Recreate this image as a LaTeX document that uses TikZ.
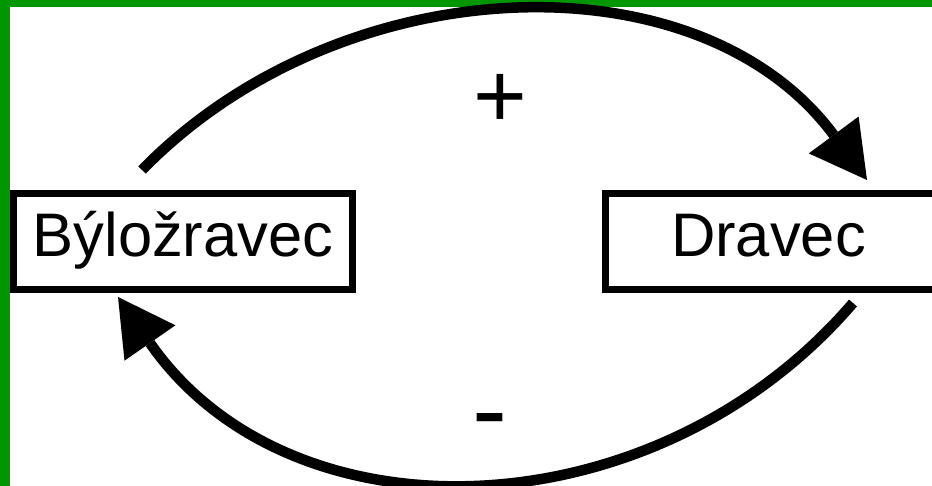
\documentclass[tikz,border=0pt]{standalone}
\usepackage{fontspec}
\setmainfont{Liberation Sans}
\usetikzlibrary{arrows.meta}
\definecolor{framegreen}{RGB}{0,150,0}
\tikzset{
  popbox/.style={draw=black, line width=7pt, inner sep=0pt, minimum height=96pt},
  poplabel/.style={inner sep=0pt, anchor=base, font=\fontsize{61.5}{70}\selectfont},
  signlabel/.style={inner sep=0pt, anchor=base},
  feedback/.style={line width=10.5pt,
    -{Triangle[length=56pt,width=62pt,line width=0pt]}}
}
\begin{document}
\begin{tikzpicture}[x=1pt,y=-1pt]
  \useasboundingbox (0,0) rectangle (932,486);
  \clip (0,0) rectangle (932,486);
  % green frame on the left and top edges
  \fill[framegreen] (0,0) rectangle (10,486);
  \fill[framegreen] (0,0) rectangle (932,7);

  % the two populations
  \node[popbox, minimum width=339pt] (herb) at (183,241.5) {};
  \node[popbox, minimum width=344.5pt] (pred) at (777.75,241.5) {};
  \node[poplabel] (herbtxt) at (183,257) {Býložravec};
  \node[poplabel] (predtxt) at (768.5,257) {Dravec};

  % feedback arcs
  \draw[feedback] ([shift={(-41,-20)}]herb.north)
      .. controls (341,-34) and (699,-47) .. ([shift={(89.25,-10)}]pred.north);
  \draw[feedback] ([shift={(75.25,10)}]pred.south)
      .. controls (655,534) and (291,546) .. ([shift={(-65,4)}]herb.south);

  % signs of the two effects
  \node[signlabel, font=\fontsize{92}{96}\selectfont] (plus) at (500,127.3) {+};
  \node[signlabel, font=\fontsize{105}{110}\selectfont] (minus) at (490,445) {-};
\end{tikzpicture}
\end{document}
